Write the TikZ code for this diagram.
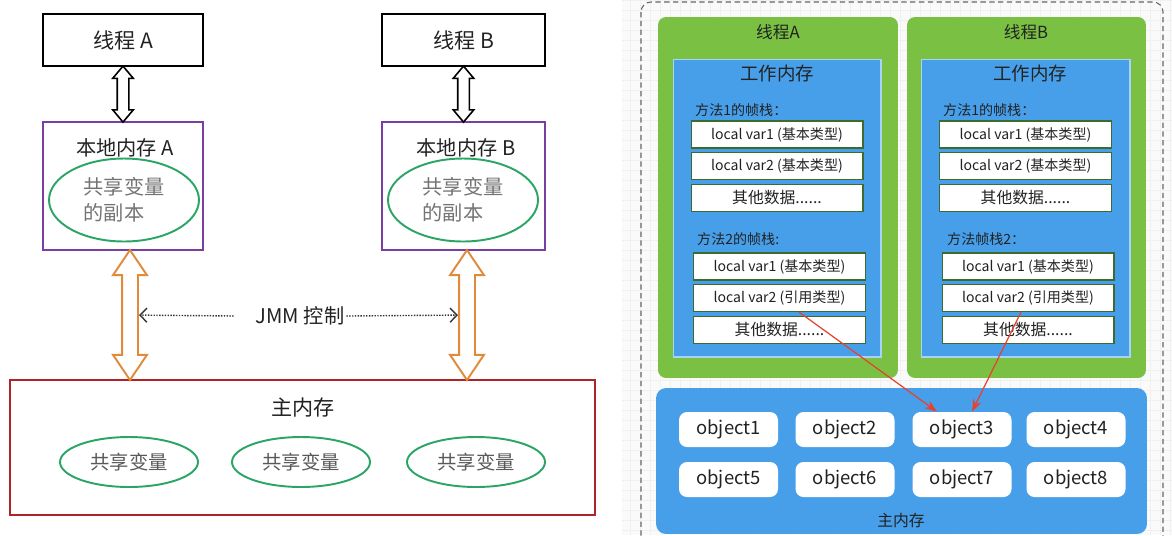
\documentclass[tikz,border=0pt]{standalone}
\usepackage{fontspec}
\setmainfont{Noto Sans CJK SC}
\usetikzlibrary{positioning,shapes.geometric,shapes.arrows,arrows.meta,calc}
\definecolor{thgreen}{HTML}{7AC143}
\definecolor{wmblue}{HTML}{479FEA}
\definecolor{wmedge}{HTML}{A9D2F5}
\definecolor{purp}{HTML}{7A3DA0}
\definecolor{ellgreen}{HTML}{2BA566}
\definecolor{memred}{HTML}{B0232A}
\definecolor{arrorange}{HTML}{E08A3A}
\definecolor{refred}{HTML}{E8412F}
\definecolor{slotedge}{HTML}{3D6B2E}
\definecolor{txt}{HTML}{222222}
\begin{document}
\begin{tikzpicture}[x=0.02cm,y=-0.02cm,text=txt,
  thr/.style={draw,line width=1.3pt,minimum width=3.2cm,minimum height=1.04cm,font=\fontsize{12}{14}\selectfont},
  loc/.style={draw=purp,line width=1.1pt,minimum width=3.2cm,minimum height=2.56cm},
  cpy/.style={ellipse,draw=ellgreen,line width=1.1pt,minimum width=3cm,minimum height=1.66cm,text=black!55,align=left,font=\fontsize{11.5}{15}\selectfont},
  shr/.style={ellipse,draw=ellgreen,line width=1.1pt,minimum width=2.76cm,minimum height=1cm,text=black!65,font=\fontsize{11}{13}\selectfont},
  blk/.style={double arrow,draw,line width=0.9pt,rotate=90,inner xsep=0pt,inner ysep=0.1cm,minimum height=1.12cm,minimum width=0.4cm,double arrow head extend=0.09cm,double arrow tip angle=80},
  org/.style={double arrow,draw=arrorange,line width=1.1pt,rotate=90,inner xsep=0pt,inner ysep=0.14cm,minimum height=2.6cm,minimum width=0.66cm,double arrow head extend=0.18cm,double arrow tip angle=68},
  jmmline/.style={black!80,line width=0.8pt,dash pattern=on 0.8pt off 0.8pt,-{Straight Barb[length=4pt,width=8pt]}},
  thbox/.style={fill=thgreen,rounded corners=0.16cm,minimum width=4.8cm,minimum height=7.22cm},
  wmbox/.style={fill=wmblue,draw=wmedge,line width=0.6pt,minimum width=4.16cm,minimum height=5.96cm},
  stk/.style={anchor=west,font=\fontsize{8}{10}\selectfont},
  slot/.style={draw=slotedge,fill=white,line width=0.6pt,minimum width=3.44cm,minimum height=0.54cm,inner sep=0pt,font=\fontsize{8}{10}\selectfont},
  obj/.style={fill=white,rounded corners=0.16cm,minimum width=1.98cm,minimum height=0.7cm,font=\fontsize{10.5}{12}\selectfont},
  ref/.style={refred,line width=0.7pt,-{Stealth[length=7pt,width=5pt]}}]
\useasboundingbox (0,0) rectangle (1172,535);

\node[thr] (thrA) at (123,40) {线程 A};
\node[thr,minimum width=3.26cm] (thrB) at (463.5,40) {线程 B};
\node[loc] (locA) at (123,186) {};
\node[loc,minimum width=3.26cm] (locB) at (463.5,186) {};
\node[font=\fontsize{11.5}{14}\selectfont] (ttlA) at (125,148) {本地内存 A};
\node[font=\fontsize{11.5}{14}\selectfont] (ttlB) at (466,148) {本地内存 B};
\node[cpy] (cpyA) at (124,200) {共享变量\\的副本};
\node[cpy] (cpyB) at (463,200) {共享变量\\的副本};
\node[draw=memred,line width=1.3pt,minimum width=11.7cm,minimum height=2.7cm] (mem) at (302.5,447.5) {};
\node[font=\fontsize{12}{14}\selectfont] (memttl) at (303,407) {主内存};
\node[shr] (shr1) at (129,462) {共享变量};
\node[shr] (shr2) at (301,462) {共享变量};
\node[shr] (shr3) at (476,462) {共享变量};

\node[blk] (bA) at ($(thrA.south)!.5!(locA.north)$) {};
\node[blk] (bB) at ($(thrB.south)!.5!(locB.north)$) {};
\node[org] (oA) at (130,315) {};
\node[org] (oB) at (467,315) {};
\node[font=\fontsize{11.5}{13}\selectfont,inner xsep=1pt] (jmm) at (300,316) {JMM 控制};
\draw[jmmline] ([xshift=-0.4cm]jmm.west) -- (oA);
\draw[jmmline] (jmm.east) -- (oB);

\fill[black!2] (622,0) rectangle (1172,535);
\draw[black!6,line width=0.2pt,step=0.2cm] (622,0) grid (1172,535);
\draw[black!60,line width=0.6pt,dash pattern=on 3pt off 2pt,rounded corners=0.2cm] (641,2) rectangle (1163,560);

\node[thbox] (gA) at (778,197.5) {};
\node[thbox,minimum width=4.78cm] (gB) at (1026.5,197.5) {};
\node[font=\fontsize{9.5}{12}\selectfont] (gttlA) at (778,32) {线程A};
\node[font=\fontsize{9.5}{12}\selectfont] (gttlB) at (1026,32) {线程B};
\node[wmbox] (wmA) at (777,208) {};
\node[wmbox,minimum width=4.18cm] (wmB) at (1025.5,208) {};
\node[font=\fontsize{10.5}{13}\selectfont] (wttlA) at (777,74) {工作内存};
\node[font=\fontsize{10.5}{13}\selectfont] (wttlB) at (1030,74) {工作内存};

\node[stk] (s1A) at (689,110) {方法1的帧栈：};
\node[slot] (a1) at (777,134.5) {local var1 (基本类型)};
\node[slot,below=0.07cm of a1] (a2) {local var2 (基本类型)};
\node[slot,below=0.07cm of a2,font=\fontsize{9}{11}\selectfont] (a3) {其他数据......};
\node[stk] (s2A) at (691,239) {方法2的帧栈:};
\node[slot] (a4) at (779.5,266.5) {local var1 (基本类型)};
\node[slot,below=0.07cm of a4] (a5) {local var2 (引用类型)};
\node[slot,below=0.07cm of a5,font=\fontsize{9}{11}\selectfont] (a6) {其他数据......};

\node[stk] (s1B) at (937,110) {方法1的帧栈：};
\node[slot] (b1) at (1025.5,134.5) {local var1 (基本类型)};
\node[slot,below=0.07cm of b1] (b2) {local var2 (基本类型)};
\node[slot,below=0.07cm of b2,font=\fontsize{9}{11}\selectfont] (b3) {其他数据......};
\node[stk] (s2B) at (941,239) {方法帧栈2：};
\node[slot] (b4) at (1028,266.5) {local var1 (基本类型)};
\node[slot,below=0.07cm of b4] (b5) {local var2 (引用类型)};
\node[slot,below=0.07cm of b5,font=\fontsize{9}{11}\selectfont] (b6) {其他数据......};

\node[fill=wmblue,rounded corners=0.2cm,minimum width=9.82cm,minimum height=2.92cm] (heap) at (901.5,461) {};
\node[obj] (o1) at (728.5,429.5) {object1};
\node[obj] (o2) at (845,429.5) {object2};
\node[obj] (o3) at (962,429.5) {object3};
\node[obj] (o4) at (1076,429.5) {object4};
\node[obj] (o5) at (728.5,479.5) {object5};
\node[obj] (o6) at (845,479.5) {object6};
\node[obj] (o7) at (962,479.5) {object7};
\node[obj] (o8) at (1076,479.5) {object8};
\node[font=\fontsize{9}{11}\selectfont] (heapttl) at (901,520) {主内存};

\draw[ref] ([xshift=0.39cm]a5.south) -- ([xshift=-0.5cm]o3.north);
\draw[ref] ([xshift=-0.14cm]b5.south) -- ([xshift=0.2cm]o3.north);
\end{tikzpicture}
\end{document}
